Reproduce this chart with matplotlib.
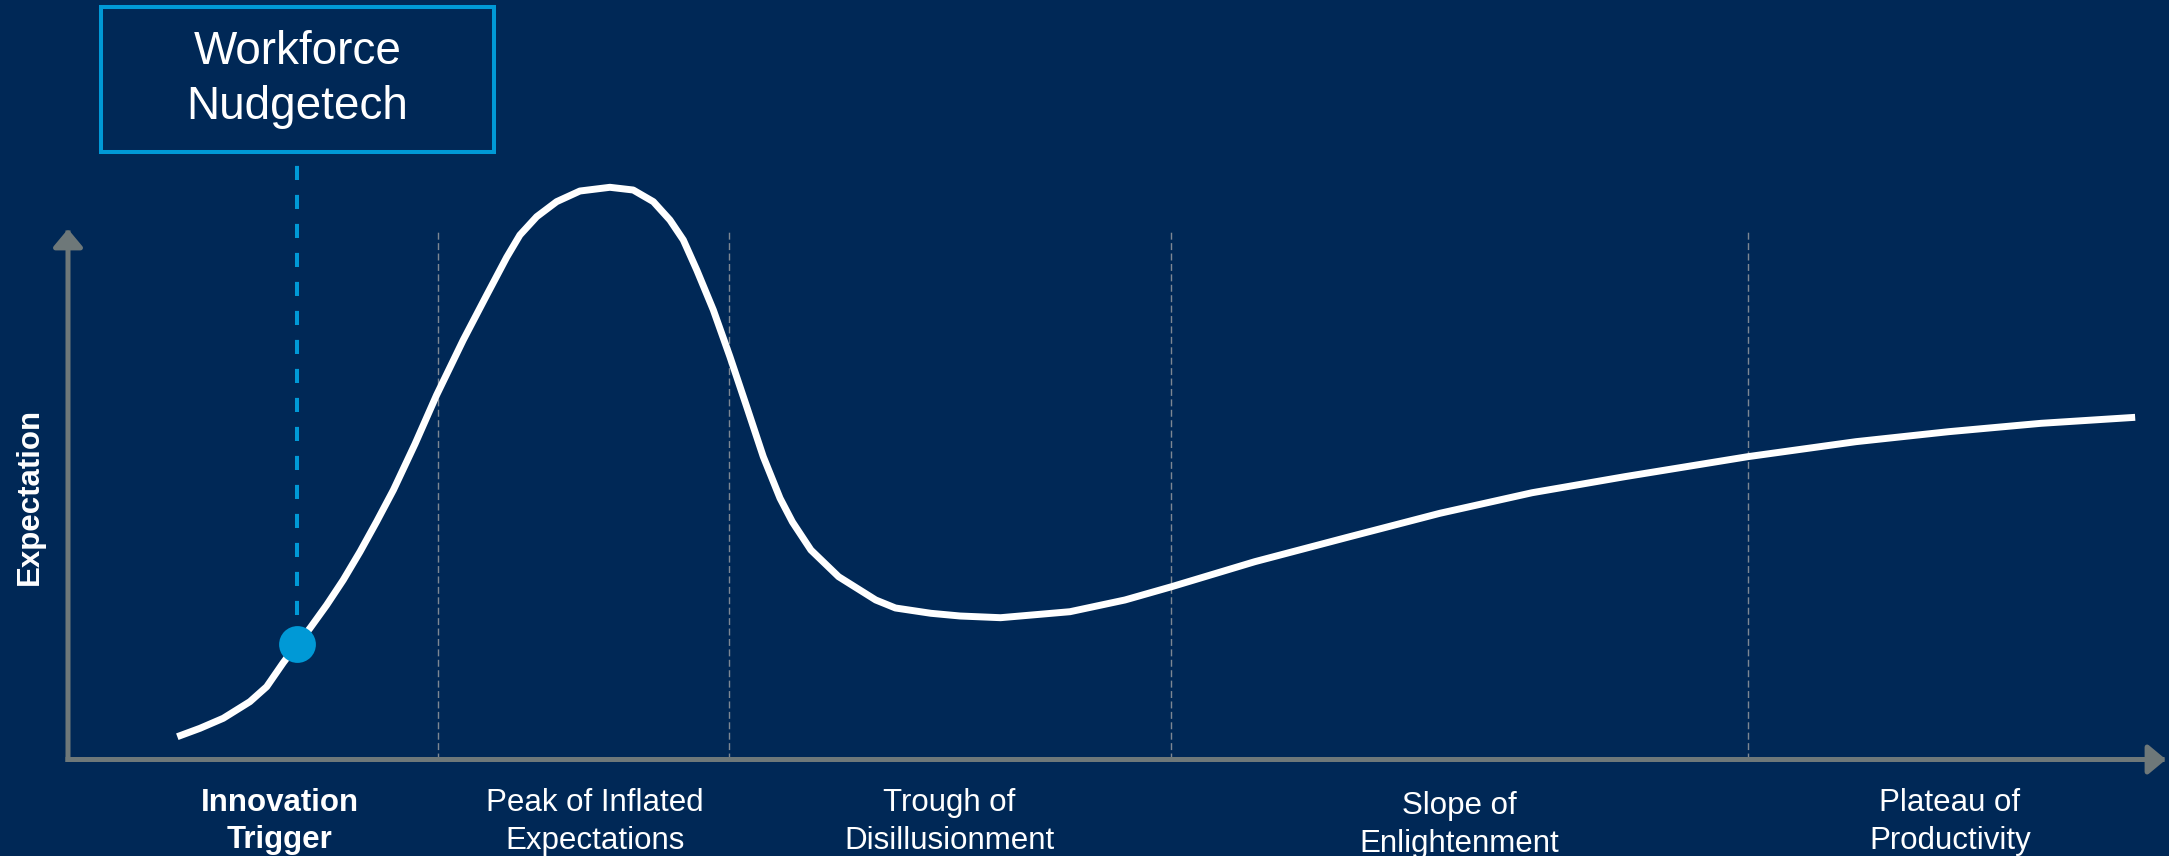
import matplotlib
matplotlib.use("Agg")
import matplotlib.pyplot as plt
from matplotlib.patches import Rectangle, FancyArrowPatch

# hype cycle curve: time (0-100) vs expectation (0-100)
curve_x = [5.21, 6.29, 7.40, 8.67, 9.47, 10.26, 10.92, 11.53, 12.33, 13.12,
           13.92, 14.71, 15.51, 16.54, 17.57, 18.84, 19.96, 20.91, 21.54, 22.34,
           23.29, 24.40, 25.83, 26.94, 27.90, 28.69, 29.33, 29.97, 30.76, 31.55,
           32.35, 33.14, 33.94, 34.53, 35.41, 36.73, 38.50, 39.44, 41.13, 42.52,
           44.45, 47.76, 50.38, 52.60, 56.57, 60.98, 65.39, 69.79, 74.20, 80.06,
           85.22, 89.63, 94.04, 98.53]
curve_y = [4.30, 5.88, 7.77, 10.90, 13.72, 18.25, 21.72, 24.73, 29.12, 33.84,
           39.17, 44.83, 50.80, 59.47, 68.71, 79.08, 87.56, 94.67, 98.87, 102.32,
           105.15, 107.16, 107.86, 107.35, 105.15, 101.70, 97.93, 92.27, 84.73, 75.93,
           66.50, 57.08, 49.24, 44.77, 39.49, 34.46, 30.07, 28.56, 27.56, 27.05,
           26.73, 27.86, 30.07, 32.57, 37.29, 41.88, 46.41, 50.29, 53.31, 57.08,
           59.91, 61.79, 63.37, 64.50]

# phase boundaries along the time axis
phase_bounds = [17.62, 31.53, 52.57, 80.06]
phases = ["Innovation\nTrigger", "Peak of Inflated\nExpectations",
          "Trough of\nDisillusionment", "Slope of\nEnlightenment",
          "Plateau of\nProductivity"]

# highlighted technology
tech_name = "Workforce\nNudgetech"
tech_x = 10.92
tech_y = 21.72

BG = "#002856"
GREY = "#6e7879"
BLUE = "#0099d6"

plt.rcParams["font.family"] = ["Liberation Sans", "DejaVu Sans"]

fig = plt.figure(figsize=(21.69, 8.56), dpi=100, facecolor=BG)
W, H = 2169, 856
ax = fig.add_axes([68 / W, (H - 759.5) / H, 2098 / W, 530.5 / H])
ax.set_facecolor(BG)
ax.set_xlim(0, 100)
ax.set_ylim(0, 100)
ax.axis("off")

# phase separators
ax.vlines(phase_bounds, 0, 100, colors="#7d8793", linewidth=1.0,
          linestyles=(0, (5, 2.5)), zorder=1)

# axes arrows
arrow_kw = dict(arrowstyle="-|>,head_length=0.6,head_width=0.5", mutation_scale=18,
                color=GREY, lw=3.6, shrinkA=0, shrinkB=0, clip_on=False,
                capstyle="projecting", zorder=2)
ax.add_patch(FancyArrowPatch((0, 0), (100, 0), **arrow_kw))
ax.add_patch(FancyArrowPatch((0, 0), (0, 100), **arrow_kw))

# the curve
ax.plot(curve_x, curve_y, color="white", lw=5, solid_joinstyle="round",
        solid_capstyle="butt", clip_on=False, zorder=3)

# callout box with leader line
box_left, box_bottom, box_w, box_h = 1.573, 114.51, 18.73, 27.34
ax.plot([tech_x, tech_x], [tech_y, box_bottom], color=BLUE, lw=2.9,
        dashes=(3.5, 3.7), clip_on=False, zorder=4)
ax.plot(tech_x, tech_y, "o", color=BLUE, markersize=26.5, mec="none",
        clip_on=False, zorder=5)
ax.add_patch(Rectangle((box_left, box_bottom), box_w, box_h, fill=False,
                       ec=BLUE, lw=2.9, clip_on=False, zorder=4))
ax.text(box_left + box_w / 2, box_bottom + box_h / 2, tech_name, color="white",
        fontsize=33, ha="center", va="center", linespacing=1.34)

# phase labels under the time axis
label_x = [10.1, 25.1, 42.0, 66.3, 89.7]
label_y = [-16.7, -16.8, -16.8, -17.4, -16.8]
for i, (lab, lx, ly) in enumerate(zip(phases, label_x, label_y)):
    ax.text(lx, ly, lab, color="white", fontsize=22.5, ha="center",
            va="baseline", linespacing=1.33,
            fontweight="bold" if i == 0 else "normal")

ax.text(-1.81, 49.5, "Expectation", color="white", fontsize=22.5,
        fontweight="bold", rotation=90, ha="center", va="center")

fig.savefig("out.png", dpi=100, facecolor=BG)
